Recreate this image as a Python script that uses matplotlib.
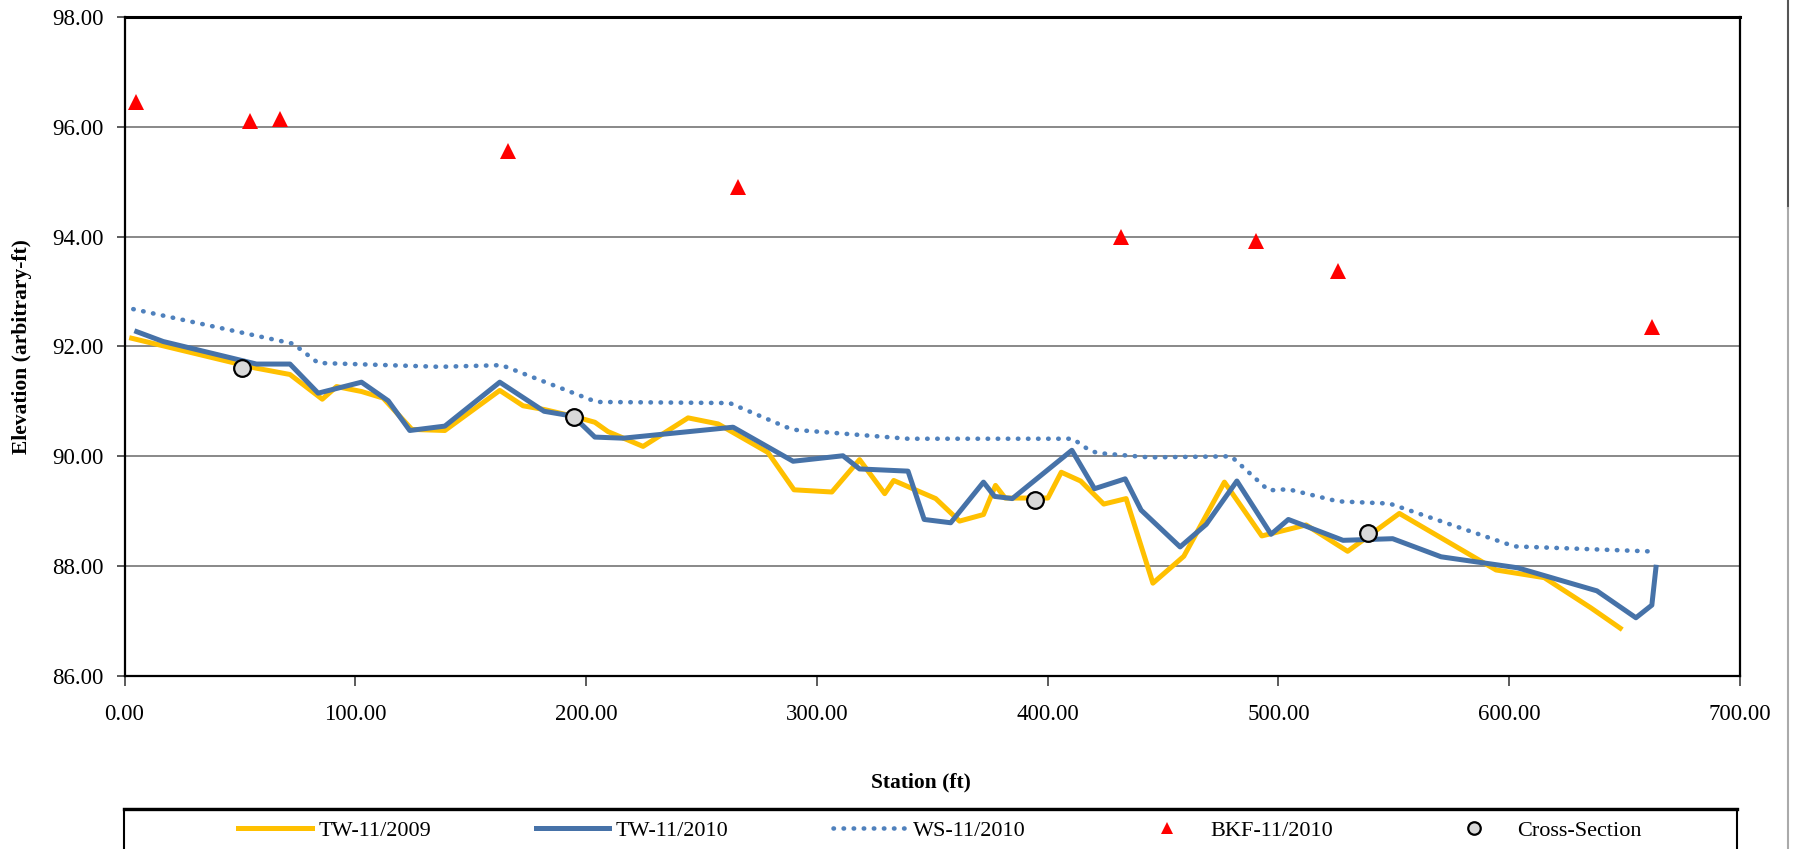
import matplotlib
matplotlib.use("Agg")
import matplotlib.pyplot as plt
from matplotlib.lines import Line2D
from matplotlib.patches import Rectangle
from matplotlib.ticker import FormatStrFormatter, MultipleLocator

plt.rcParams['font.family'] = ['Liberation Serif', 'DejaVu Serif']

# thalweg survey 11/2009
tw2009_sta = [3.1, 56.5, 66.6, 71.7, 85.7, 91.9, 102.7, 112.1, 124.5, 138.8,
              162.6, 172.7, 182.1, 194.4, 203.8, 209.5, 224.7, 244.2, 257.2, 278.8,
              290.1, 306.5, 318.5, 329.4, 333.3, 351.5, 361.8, 372.2, 377.4, 381.6,
              400.1, 405.9, 414.3, 424.3, 434.0, 445.6, 459.0, 476.6, 492.8, 512.0,
              530.0, 552.4, 594.3, 615.2, 635.4, 648.1]
tw2009_elev = [92.15, 91.61, 91.53, 91.49, 91.04, 91.27, 91.18, 91.06, 90.49, 90.47,
               91.20, 90.92, 90.85, 90.73, 90.62, 90.45, 90.18, 90.70, 90.59, 90.07,
               89.39, 89.35, 89.94, 89.32, 89.56, 89.23, 88.82, 88.94, 89.47, 89.24,
               89.24, 89.71, 89.55, 89.13, 89.23, 87.69, 88.18, 89.53, 88.55, 88.75,
               88.27, 88.96, 87.93, 87.79, 87.24, 86.87]

# thalweg survey 11/2010
tw2010_sta = [5.3, 16.8, 57.2, 71.7, 83.9, 102.7, 114.3, 123.6, 138.8, 162.6,
              181.8, 194.4, 203.8, 216.0, 263.7, 289.7, 311.3, 318.5, 339.5, 346.5,
              358.0, 372.2, 377.0, 384.7, 410.5, 420.3, 433.6, 440.5, 457.4, 468.7,
              482.0, 496.8, 504.3, 528.0, 549.5, 570.5, 603.6, 638.0, 654.9, 661.8,
              663.6]
tw2010_elev = [92.27, 92.09, 91.68, 91.68, 91.15, 91.35, 91.01, 90.47, 90.55, 91.35,
               90.82, 90.73, 90.35, 90.33, 90.53, 89.91, 90.01, 89.77, 89.73, 88.85,
               88.79, 89.53, 89.27, 89.23, 90.11, 89.41, 89.59, 89.02, 88.35, 88.76,
               89.55, 88.58, 88.85, 88.47, 88.50, 88.17, 87.97, 87.55, 87.06, 87.29,
               87.98]

# water surface 11/2010
ws_sta = [3.8, 73.1, 83.9, 136.6, 163.4, 204.5, 262.2, 286.8, 291.1, 339.5,
          410.9, 418.1, 421.7, 444.1, 479.5, 495.7, 504.3, 525.7, 548.1, 602.2,
          660.0]
ws_elev = [92.68, 92.05, 91.70, 91.63, 91.66, 90.99, 90.97, 90.53, 90.48, 90.32,
           90.32, 90.11, 90.06, 89.98, 90.00, 89.38, 89.40, 89.18, 89.14, 88.36,
           88.27]

# bankfull indicators 11/2010
bkf_sta = [5.0, 54.4, 67.5, 166.2, 265.8, 431.8, 490.1, 525.9, 661.8]
bkf_elev = [96.45, 96.11, 96.15, 95.56, 94.91, 94.00, 93.92, 93.38, 92.35]

# cross-section locations
xs_sta = [51.0, 194.8, 394.6, 538.7]
xs_elev = [91.61, 90.71, 89.21, 88.61]

fig = plt.figure(figsize=(17.94, 8.49), dpi=100)
ax = fig.add_axes([0.0694, 0.2038, 0.9005, 0.7762])

ax.plot(tw2009_sta, tw2009_elev, color='#FFC000', lw=3.6, label='TW-11/2009', zorder=3)
ax.plot(tw2010_sta, tw2010_elev, color='#4672A8', lw=3.6, label='TW-11/2010', zorder=4)
ax.plot(ws_sta, ws_elev, color='#4F81BD', lw=3.3, linestyle=(0, (0.1, 2.1)),
        dash_capstyle='round', label='WS-11/2010', zorder=3)
ax.plot(bkf_sta, bkf_elev, linestyle='none', marker='^', markersize=12,
        color='#FF0000', markeredgewidth=0, label='BKF-11/2010', zorder=5)
ax.plot(xs_sta, xs_elev, linestyle='none', marker='o', markersize=12,
        markerfacecolor='#D9D9D9', markeredgecolor='black', markeredgewidth=1.6,
        label='Cross-Section', zorder=6)

ax.set_xlim(0, 700)
ax.set_ylim(86, 98)
ax.xaxis.set_major_locator(MultipleLocator(100))
ax.yaxis.set_major_locator(MultipleLocator(2))
ax.xaxis.set_major_formatter(FormatStrFormatter('%.2f'))
ax.yaxis.set_major_formatter(FormatStrFormatter('%.2f'))
ax.tick_params(axis='both', labelsize=16.5, direction='out', color='#404040')
ax.tick_params(axis='x', length=7, width=1.2, pad=13)
ax.tick_params(axis='y', length=6, width=1.2, pad=9)

ax.grid(axis='y', color='#7F7F7F', lw=1.3)
ax.set_axisbelow(True)
for side in ['left', 'bottom', 'right', 'top']:
    ax.spines[side].set_color('black')
    ax.spines[side].set_linewidth(1.6)
ax.spines['top'].set_linewidth(2.2)

ax.set_xlabel('Station (ft)', fontsize=15.5, fontweight='bold', va='center')
ax.xaxis.set_label_coords(0.493, -0.162)
ax.set_ylabel('Elevation (arbitrary-ft)', fontsize=15.5, fontweight='bold',
              va='center', ha='center')
ax.yaxis.set_label_coords(-0.0634, 0.5)

# legend box along the bottom edge
box = Rectangle((124 / 1794, -0.01), (1737 - 124) / 1794, 1 - 809 / 849 + 0.01,
                transform=fig.transFigure, fill=False, edgecolor='black',
                lw=1.5, clip_on=False)
fig.patches.append(box)
fig.add_artist(Line2D([124 / 1794, 1737 / 1794], [1 - 809 / 849] * 2,
                      transform=fig.transFigure, color='black', lw=2.4))

handles, labels = ax.get_legend_handles_labels()
fig.legend(handles, labels, loc='center', ncol=5, frameon=False,
           bbox_to_anchor=(940 / 1794, 1 - 831 / 849), fontsize=16,
           handlelength=3.3, handletextpad=0.3, columnspacing=4.7,
           markerscale=0.75)

# page edge on the right
fig.add_artist(Line2D([1787.5 / 1794] * 2, [1 - 208 / 849, 1.0],
                      transform=fig.transFigure, color='#555555', lw=1.5))
fig.add_artist(Line2D([1787.5 / 1794] * 2, [0.0, 1 - 208 / 849],
                      transform=fig.transFigure, color='#AAAAAA', lw=1.5))

fig.savefig('out.png', dpi=100, facecolor='white')
